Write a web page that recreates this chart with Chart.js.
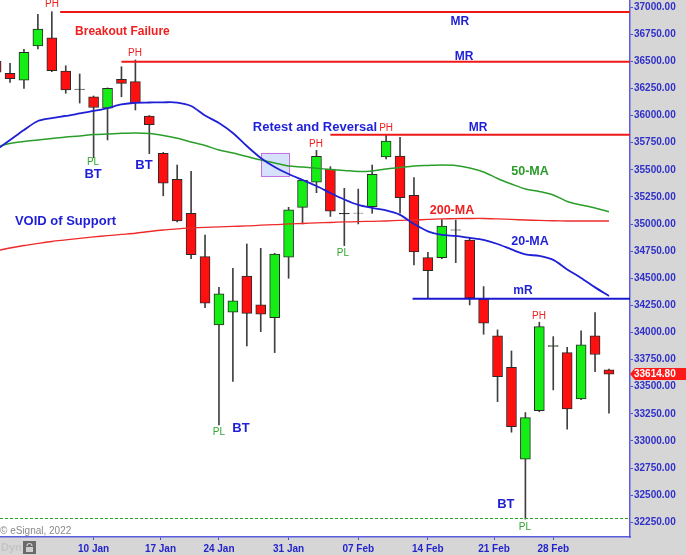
<!DOCTYPE html>
<html>
<head>
<meta charset="utf-8">
<script src="https://cdn.jsdelivr.net/npm/chart.js@4.4.1/dist/chart.umd.min.js"></script>
<style>
html,body{margin:0;padding:0;background:#d6d6d6;}
#wrap{position:relative;width:686px;height:555px;}
</style>
</head>
<body>
<div id="wrap"><canvas id="c"></canvas></div>
<script>
// ---- data (daily candles, DJIA Dec 30 2021 – Mar 4 2022) ----
const dates = ['30 Dec','31 Dec','03 Jan','04 Jan','05 Jan','06 Jan','07 Jan','10 Jan','11 Jan','12 Jan','13 Jan','14 Jan','18 Jan','19 Jan','20 Jan','21 Jan','24 Jan','25 Jan','26 Jan','27 Jan','28 Jan','31 Jan','01 Feb','02 Feb','03 Feb','04 Feb','07 Feb','08 Feb','09 Feb','10 Feb','11 Feb','14 Feb','15 Feb','16 Feb','17 Feb','18 Feb','22 Feb','23 Feb','24 Feb','25 Feb','28 Feb','01 Mar','02 Mar','03 Mar','04 Mar'];
const opens  = [36500,36389,36325,36641,36717,36410,36245,36172,36067,36334,36312,35996,35652,35412,35099,34699,34070,34187,34521,34254,34137,34694,35154,35385,35507,35098,35101,35160,35618,35627,35265,34690,34690,34947,34853,34307,33969,33680,32833,33280,33872,33815,33388,33969,33656];
const highs  = [36560,36481,36610,36933,36957,36459,36383,36180,36255,36450,36512,36000,35660,35544,35485,34899,34417,34592,34816,34776,34730,35154,35410,35679,35529,35329,35322,35544,35821,35798,35427,34740,35042,35037,34878,34423,34024,33830,33262,34095,33962,33864,34015,34183,33662];
const lows   = [36380,36306,36251,36613,36404,36205,36115,35610,35775,36173,36051,35649,35260,35019,34680,34229,33149,33548,33876,34008,33815,34500,35001,35289,35070,34801,35001,35099,35600,35099,34623,34316,34680,34644,34254,33984,33363,33081,32280,33270,33471,33109,33380,33640,33256];
const closes = [36400,36339,36583,36797,36413,36235,36240,36074,36251,36297,36118,35916,35376,35028,34718,34270,34356,34291,34177,34168,34724,35130,35406,35624,35119,35093,35099,35459,35765,35243,34742,34570,34982,34943,34316,34086,33594,33133,33216,34054,33880,33296,33886,33797,33614.80];
const ma20  = [35682,35774,35867,35950,35977,35996,36019,36042,36069,36102,36118,36120,36122,36120,36088,36000,35931,35839,35719,35609,35526,35461,35406,35351,35286,35226,35176,35148,35125,35084,35001,34932,34899,34890,34872,34853,34816,34766,34720,34706,34669,34581,34503,34416,34337];
const ma50  = [35710,35742,35761,35774,35788,35802,35811,35825,35830,35836,35839,35834,35816,35790,35756,35724,35682,35655,35622,35590,35563,35535,35526,35514,35503,35494,35484,35489,35507,35521,35535,35540,35544,35540,35517,35480,35420,35369,35323,35300,35268,35208,35176,35148,35114];
const ma200 = [34752,34779,34802,34821,34839,34853,34867,34881,34893,34904,34915,34931,34945,34955,34964,34970,34973,34978,34982,34989,34994,35001,35005,35010,35014,35019,35022,35025,35028,35033,35037,35042,35047,35050,35051,35051,35047,35042,35037,35033,35030,35028,35028,35028,35028];
const tickLabels = ['10 Jan','17 Jan','24 Jan','31 Jan','07 Feb','14 Feb','21 Feb','28 Feb'];
const tickIndex  = [7, 11.8, 16, 21, 26, 31, 35.75, 40];
const priceTicks = [32250,32500,32750,33000,33250,33500,33750,34000,34250,34500,34750,35000,35250,35500,35750,36000,36250,36500,36750,37000];
const majorResistance = [36955, 36495, 35822];
const majorFrom       = [4.6, 9.0, 24.0];
const minorResistance = 34312;
const minorFrom       = 29.9;
const swingLowLine    = 32290;
const retestBox = [19.02, 21.03, 35655, 35443];
// annotations: [kind, text, candle-index position, price position]
const notes = [
  ['ph','PH',4.01,37030], ['ph','PH',9.97,36576], ['pl','PL',6.96,35572], ['bt','BT',6.96,35461],
  ['bt','BT',10.62,35544], ['ph','PH',22.96,35738], ['ph','PH',28.0,35885], ['pl','PL',24.9,34733],
  ['pl','PL',16.0,33084], ['bt','BT',17.58,33112], ['ph','PH',38.97,34153], ['bt','BT',36.6,32411],
  ['pl','PL',37.97,32209],
  ['red','Breakout Failure',9.07,36770], ['mr','MR',33.3,36862], ['mr','MR',33.59,36539], ['mr','MR',34.6,35885],
  ['blue','Retest and Reversal',22.89,35894], ['blue','VOID of Support',4.98,35028],
  ['ma50','50-MA',38.33,35480], ['ma200','200-MA',32.73,35120], ['ma20','20-MA',38.33,34835], ['mr','mR',37.82,34383]
];

// ---- styles ----
const FF = '"Liberation Sans", Arial, sans-serif';
const noteStyle = {
  ph:   {color:'#ee2020', font:'10px ' + FF},
  pl:   {color:'#2fa52f', font:'10px ' + FF},
  bt:   {color:'#1f1fd8', font:'bold 13px ' + FF},
  red:  {color:'#ee2020', font:'bold 12px ' + FF},
  blue: {color:'#1f1fd8', font:'bold 13px ' + FF},
  mr:   {color:'#1f1fd8', font:'bold 12px ' + FF},
  ma50: {color:'#2a9a2a', font:'bold 12.5px ' + FF},
  ma200:{color:'#ee2020', font:'bold 12.5px ' + FF},
  ma20: {color:'#1f1fd8', font:'bold 12.5px ' + FF}
};
const UP='#14ee14', DOWN='#ff1010', DOJI_UP='#2f6f2f', DOJI_DN='#111111';
const bodyColors = opens.map((o,i)=>{
  const c = closes[i];
  if (Math.abs(c-o) < 12) return c > o ? DOJI_UP : DOJI_DN;
  return c > o ? UP : DOWN;
});
const idx = dates.map((_,i)=>i);

const deco = {
  id:'deco',
  beforeDraw(chart){
    const {ctx, chartArea:a, width, height} = chart;
    ctx.save();
    ctx.fillStyle = '#d6d6d6'; ctx.fillRect(0,0,width,height);
    ctx.fillStyle = '#ffffff'; ctx.fillRect(a.left,a.top,a.right-a.left,a.bottom-a.top);
    ctx.restore();
  },
  beforeDatasetsDraw(chart){
    const {ctx, chartArea:a, scales:{x,y}} = chart;
    ctx.save();
    ctx.beginPath(); ctx.rect(a.left,a.top,a.right-a.left,a.bottom-a.top); ctx.clip();
    const x1=x.getPixelForValue(retestBox[0]), x2=x.getPixelForValue(retestBox[1]);
    const y1=y.getPixelForValue(retestBox[2]), y2=y.getPixelForValue(retestBox[3]);
    ctx.fillStyle='rgba(200,215,250,0.75)'; ctx.fillRect(x1,y1,x2-x1,y2-y1);
    ctx.strokeStyle='#c070e0'; ctx.lineWidth=1; ctx.strokeRect(x1+0.5,y1+0.5,x2-x1,y2-y1);
    ctx.restore();
  },
  afterDatasetsDraw(chart){
    const {ctx, chartArea:a, scales:{x,y}} = chart;
    ctx.save();
    ctx.beginPath(); ctx.rect(a.left,a.top,a.right-a.left,a.bottom-a.top); ctx.clip();
    ctx.strokeStyle='#ee1818'; ctx.lineWidth=2;
    majorResistance.forEach((lv,k)=>{
      const py=y.getPixelForValue(lv);
      ctx.beginPath(); ctx.moveTo(x.getPixelForValue(majorFrom[k]),py); ctx.lineTo(a.right,py); ctx.stroke();
    });
    ctx.strokeStyle='#1a1ad0'; ctx.lineWidth=2;
    let py=y.getPixelForValue(minorResistance);
    ctx.beginPath(); ctx.moveTo(x.getPixelForValue(minorFrom),py); ctx.lineTo(a.right,py); ctx.stroke();
    ctx.strokeStyle='#2aa52a'; ctx.lineWidth=1.2; ctx.setLineDash([3,2]);
    py=Math.round(y.getPixelForValue(swingLowLine))+0.5;
    ctx.beginPath(); ctx.moveTo(a.left,py); ctx.lineTo(a.right,py); ctx.stroke();
    ctx.setLineDash([]);
    ctx.restore();
    ctx.save();
    ctx.textAlign='center'; ctx.textBaseline='middle';
    notes.forEach(([kind,text,i,v])=>{
      const st=noteStyle[kind];
      ctx.fillStyle=st.color; ctx.font=st.font;
      ctx.fillText(text, x.getPixelForValue(i), y.getPixelForValue(v));
    });
    ctx.restore();
  },
  afterDraw(chart){
    const {ctx, chartArea:a, scales:{y}, width} = chart;
    ctx.save();
    const last = closes[closes.length-1];
    const py = Math.round(y.getPixelForValue(last));
    ctx.fillStyle='#ff1a1a';
    ctx.beginPath();
    ctx.moveTo(a.right, py); ctx.lineTo(a.right+5, py-6); ctx.lineTo(width, py-6);
    ctx.lineTo(width, py+6); ctx.lineTo(a.right+5, py+6); ctx.closePath(); ctx.fill();
    ctx.fillStyle='#ffffff'; ctx.font='bold 10px '+FF; ctx.textAlign='left'; ctx.textBaseline='middle';
    ctx.fillText(last.toFixed(2), a.right+4, py+0.5);
    ctx.fillStyle='#8a8a8a'; ctx.font='10px '+FF; ctx.textBaseline='middle';
    ctx.fillText('\u00A9 eSignal, 2022', a.left, a.bottom-6);
    ctx.fillStyle='#c4c4c4'; ctx.font='bold 11px '+FF;
    ctx.fillText('Dyn', a.left+1, a.bottom+11);
    ctx.fillStyle='#6a6a6a'; ctx.fillRect(a.left+23, a.bottom+4, 13, 13);
    ctx.fillStyle='#cfcfcf'; ctx.fillRect(a.left+26, a.bottom+10, 7, 5);
    ctx.strokeStyle='#cfcfcf'; ctx.lineWidth=1.2;
    ctx.beginPath(); ctx.arc(a.left+29.5, a.bottom+9, 2.5, Math.PI, 0); ctx.stroke();
    ctx.restore();
  }
};

new Chart(document.getElementById('c'), {
  type:'bar',
  data:{
    datasets:[
      {type:'line', label:'20-MA', data:idx.map(i=>({x:i,y:ma20[i]})), borderColor:'#1f1fd6', borderWidth:1.8, pointRadius:0, tension:0.3, order:0},
      {type:'line', label:'50-MA', data:idx.map(i=>({x:i,y:ma50[i]})), borderColor:'#2a9e2a', borderWidth:1.5, pointRadius:0, tension:0.3, order:0},
      {type:'line', label:'200-MA', data:idx.map(i=>({x:i,y:ma200[i]})), borderColor:'#ee2a2a', borderWidth:1.3, pointRadius:0, tension:0.3, order:0},
      {type:'bar', label:'body', data:idx.map(i=>({x:i,y:[opens[i],closes[i]]})), backgroundColor:bodyColors, borderColor:'#2a2a2a', borderWidth:1, borderSkipped:false, barThickness:10, grouped:false, order:2},
      {type:'bar', label:'wick', data:idx.map(i=>({x:i,y:[lows[i],highs[i]]})), backgroundColor:'#404040', borderWidth:0, barThickness:1, grouped:false, order:3}
    ]
  },
  options:{
    responsive:true, maintainAspectRatio:false, animation:false, events:[],
    layout:{padding:0},
    plugins:{legend:{display:false}, tooltip:{enabled:false}},
    scales:{
      x:{type:'linear', min:0.28, max:45.51, offset:false, position:'bottom',
        grid:{drawOnChartArea:false, tickLength:3, tickColor:'#4b4bd6', offset:false},
        border:{color:'#5b5be0', width:1.5},
        ticks:{autoSkip:false, maxRotation:0, padding:3, color:'#2424cc',
          font:{family:FF, size:10, weight:'bold'}, callback:(v,i)=>tickLabels[i]},
        afterBuildTicks:s=>{ s.ticks = tickIndex.map(v=>({value:v})); },
        afterFit:s=>{ s.height=18; s.paddingLeft=0; s.paddingRight=0; }
      },
      y:{type:'linear', position:'right', min:32115, max:37065,
        grid:{drawOnChartArea:false, tickLength:3, tickColor:'#4b4bd6'},
        border:{color:'#5b5be0', width:1.5},
        ticks:{autoSkip:false, padding:1, color:'#3030c8',
          font:{family:FF, size:10, weight:'bold'}, callback:v=>v.toFixed(2)},
        afterBuildTicks:s=>{ s.ticks = priceTicks.map(v=>({value:v})); },
        afterFit:s=>{ s.width=56; s.paddingTop=0; s.paddingBottom=0; }
      }
    }
  },
  plugins:[deco]
});
</script>
</body>
</html>
